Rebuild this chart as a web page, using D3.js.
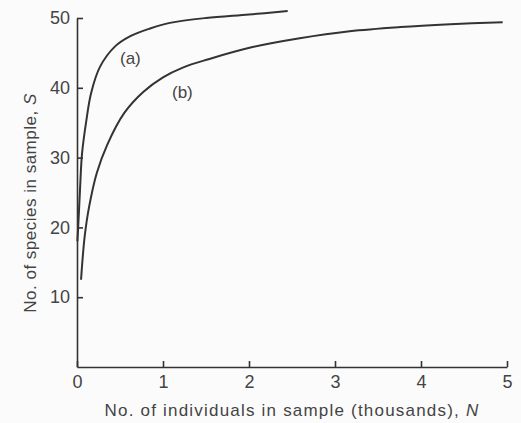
<!DOCTYPE html>
<html>
<head>
<meta charset="utf-8">
<script src="https://cdn.jsdelivr.net/npm/d3@7"></script>
<style>
  body { margin: 0; background: #fbfbfb; }
  svg { display: block; font-family: "Liberation Sans", Arial, sans-serif; }
  .axis path, .axis line { stroke: #333; stroke-width: 1.6; }
  .axis text { fill: #444; font-size: 18px; }
</style>
</head>
<body>
<svg id="chart" width="521" height="423"></svg>
<script>
// curve (a): N in thousands, S species
var aN = [0.004, 0.012, 0.035, 0.058, 0.105, 0.163, 0.267, 0.44, 0.62, 0.85, 1.08, 1.5, 2.0, 2.45];
var aS = [18, 19.6, 25.4, 30.5, 35, 39.2, 43, 45.9, 47.4, 48.5, 49.3, 50, 50.5, 51];

// curve (b)
var bN = [0.047, 0.065, 0.09, 0.14, 0.23, 0.35, 0.55, 0.77, 1.0, 1.23, 1.53, 2.03, 2.59, 3.17, 3.76, 4.34, 4.95];
var bS = [12.5, 15.5, 18.8, 22.9, 27.8, 31.8, 36.4, 39.4, 41.5, 42.9, 44.1, 45.8, 47.1, 48.1, 48.7, 49.1, 49.4];

var xTicks = [0, 1, 2, 3, 4, 5];
var yTicks = [10, 20, 30, 40, 50];

var svg = d3.select("#chart");

var xScale = d3.scaleLinear().domain([0, 5]).range([77, 507]);
var yScale = d3.scaleLinear().domain([0, 50]).range([367, 18]);

// axes
svg.append("g")
  .attr("class", "axis")
  .attr("transform", "translate(0," + yScale(0) + ")")
  .call(d3.axisBottom(xScale).tickValues(xTicks).tickFormat(d3.format("d"))
    .tickSize(-6).tickSizeOuter(0).tickPadding(8));

svg.append("g")
  .attr("class", "axis")
  .attr("transform", "translate(" + xScale(0) + ",0)")
  .call(d3.axisLeft(yScale).tickValues(yTicks).tickFormat(d3.format("d"))
    .tickSize(-6).tickSizeOuter(0).tickPadding(7));

svg.selectAll(".axis .domain").attr("fill", "none");

// curves
var line = d3.line()
  .x(d => xScale(d[0]))
  .y(d => yScale(d[1]))
  .curve(d3.curveCatmullRom.alpha(0.5));

[[aN, aS], [bN, bS]].forEach(function(c) {
  svg.append("path")
    .datum(d3.zip(c[0], c[1]))
    .attr("d", line)
    .attr("fill", "none")
    .attr("stroke", "#333")
    .attr("stroke-width", 2);
});

// curve labels
svg.append("text").attr("x", 120).attr("y", 64)
  .attr("font-size", 17).attr("fill", "#444").text("(a)");
svg.append("text").attr("x", 172).attr("y", 98)
  .attr("font-size", 17).attr("fill", "#444").text("(b)");

// axis titles
var xt = svg.append("text")
  .attr("x", 292).attr("y", 416)
  .attr("text-anchor", "middle")
  .attr("font-size", 17).attr("letter-spacing", 1.2)
  .attr("fill", "#444");
xt.append("tspan").text("No. of individuals in sample (thousands), ");
xt.append("tspan").attr("font-style", "italic").text("N");

var yt = svg.append("text")
  .attr("transform", "translate(36,203) rotate(-90)")
  .attr("text-anchor", "middle")
  .attr("font-size", 17).attr("letter-spacing", 0.5)
  .attr("fill", "#444");
yt.append("tspan").text("No. of species in sample, ");
yt.append("tspan").attr("font-style", "italic").text("S");
</script>
</body>
</html>
